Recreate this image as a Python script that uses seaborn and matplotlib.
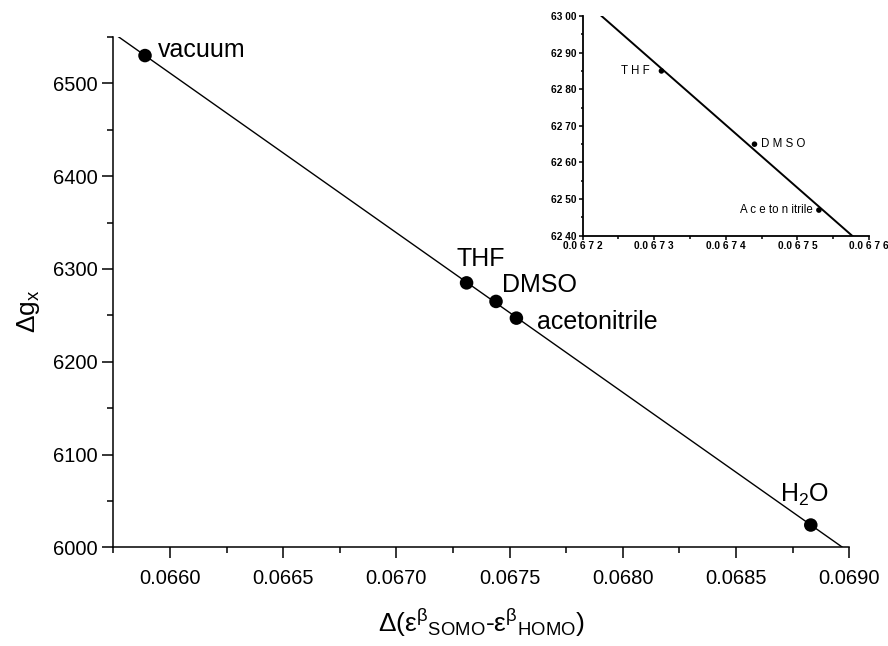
import matplotlib

matplotlib.use("Agg")
import matplotlib.pyplot as plt
from matplotlib.ticker import MultipleLocator
import seaborn as sns

# main panel: g-shift vs. SOMO-HOMO gap, one point per solvent
solvents = ["vacuum", "THF", "DMSO", "acetonitrile", "H$_2$O"]
gap = [0.06589, 0.06731, 0.06744, 0.06753, 0.06883]
dgx = [6530, 6285, 6265, 6247, 6024]

x_ticks = [0.0660, 0.0665, 0.0670, 0.0675, 0.0680, 0.0685, 0.0690]
x_labels = ["0.0660", "0.0665", "0.0670", "0.0675", "0.0680", "0.0685", "0.0690"]
y_ticks = [6000, 6100, 6200, 6300, 6400, 6500]

# inset: zoom on the three organic solvents
inset_solvents = ["T H F", "D M S O", "A c e to n itrile"]
inset_gap = [0.06731, 0.06744, 0.06753]
inset_dgx = [6285, 6265, 6247]

inset_x_ticks = [0.0672, 0.0673, 0.0674, 0.0675, 0.0676]
inset_x_labels = ["0.0 6 7 2", "0.0 6 7 3", "0.0 6 7 4", "0.0 6 7 5", "0.0 6 7 6"]
inset_y_ticks = [6240, 6250, 6260, 6270, 6280, 6290, 6300]
inset_y_labels = ["62 40", "62 50", "62 60", "62 70", "62 80", "62 90", "63 00"]

sns.set_style("ticks")
plt.rcParams["font.family"] = ["Liberation Sans", "DejaVu Sans"]
plt.rcParams["mathtext.fontset"] = "custom"
plt.rcParams["mathtext.rm"] = "Liberation Sans"
plt.rcParams["mathtext.it"] = "Liberation Sans:italic"
plt.rcParams["mathtext.bf"] = "Liberation Sans:bold"
plt.rcParams["mathtext.default"] = "regular"
for key in ["text.color", "axes.labelcolor", "xtick.color", "ytick.color", "axes.edgecolor"]:
    plt.rcParams[key] = "black"

fig = plt.figure(figsize=(8.88, 6.46), dpi=100)
ax = fig.add_axes([0.1276, 0.1528, 0.8288, 0.7899])

xlim = (0.06575, 0.0690)
ylim = (6000, 6550)
ax.set_xlim(xlim)
ax.set_ylim(ylim)
sns.regplot(x=gap, y=dgx, ax=ax, ci=None, truncate=False, scatter=False,
            line_kws=dict(color="black", lw=1.0))
sns.scatterplot(x=gap, y=dgx, ax=ax, s=95, color="black", edgecolor="none", zorder=3)
ax.set_xlim(xlim)
ax.set_ylim(ylim)

# label offsets (points) relative to each marker
offsets = {
    "vacuum": ((9.5, 4.0), "left", "center"),
    "THF": ((10.0, 17.5), "center", "center"),
    "DMSO": ((4.5, 11.5), "left", "center"),
    "acetonitrile": ((14.5, -2.5), "left", "center"),
    "H$_2$O": ((-22.5, 16.5), "left", "baseline"),
}
for name, x, y in zip(solvents, gap, dgx):
    off, ha, va = offsets[name]
    ax.annotate(name, (x, y), xytext=off, textcoords="offset points",
                ha=ha, va=va, fontsize=18)

ax.set_xticks(x_ticks)
ax.set_xticklabels(x_labels)
ax.set_yticks(y_ticks)
ax.xaxis.set_minor_locator(MultipleLocator(0.00025))
ax.yaxis.set_minor_locator(MultipleLocator(50))
ax.tick_params(axis="both", which="major", direction="out", length=8, width=1.1,
               labelsize=14.5, color="black")
ax.tick_params(axis="both", which="minor", direction="out", length=4, width=1.1,
               color="black")
ax.tick_params(axis="x", which="major", pad=7.5)
ax.tick_params(axis="y", which="major", pad=3.5)
sns.despine(ax=ax)
for side in ["left", "bottom"]:
    ax.spines[side].set_linewidth(1.1)
    ax.spines[side].set_color("black")

ax.set_xlabel(r"$\Delta(\varepsilon^{\beta}{}_{\mathrm{SOMO}}$-$\varepsilon^{\beta}{}_{\mathrm{HOMO}})$",
              fontsize=19)
ax.set_ylabel(r"$\Delta\mathrm{g}_{\mathrm{x}}$", fontsize=19)
ax.xaxis.set_label_coords(0.5, -0.117)
ax.yaxis.set_label_coords(-0.097, 0.463)

# inset
ins = fig.add_axes([0.6562, 0.6351, 0.3224, 0.3401])
ixlim = (0.0672, 0.0676)
iylim = (6240, 6300)
ins.set_xlim(ixlim)
ins.set_ylim(iylim)
sns.regplot(x=inset_gap, y=inset_dgx, ax=ins, ci=None, truncate=False, scatter=False,
            line_kws=dict(color="black", lw=1.4))
sns.scatterplot(x=inset_gap, y=inset_dgx, ax=ins, s=16, color="black", edgecolor="none",
                zorder=3)
ins.set_xlim(ixlim)
ins.set_ylim(iylim)

inset_offsets = {
    "T H F": ((-8.4, 0), "right"),
    "D M S O": ((4.8, 0), "left"),
    "A c e to n itrile": ((-4.5, 0), "right"),
}
for name, x, y in zip(inset_solvents, inset_gap, inset_dgx):
    off, ha = inset_offsets[name]
    ins.annotate(name, (x, y), xytext=off, textcoords="offset points",
                 ha=ha, va="center", fontsize=8.3)

ins.set_xticks(inset_x_ticks)
ins.set_xticklabels(inset_x_labels, fontweight="bold")
ins.set_yticks(inset_y_ticks)
ins.set_yticklabels(inset_y_labels, fontweight="bold")
ins.xaxis.set_minor_locator(MultipleLocator(0.00005))
ins.yaxis.set_minor_locator(MultipleLocator(5))
ins.tick_params(axis="both", which="major", direction="out", length=3, width=1.1,
                labelsize=7.3, color="black", pad=1.5)
ins.tick_params(axis="both", which="minor", direction="out", length=1.8, width=1.1,
                color="black")
ins.tick_params(axis="x", which="major", pad=0.8)
sns.despine(ax=ins)
for side in ["left", "bottom"]:
    ins.spines[side].set_linewidth(1.3)
    ins.spines[side].set_color("black")
ins.set_xlabel("")
ins.set_ylabel("")
ins.patch.set_alpha(0)

fig.savefig("out.png", dpi=100)
plt.close(fig)
